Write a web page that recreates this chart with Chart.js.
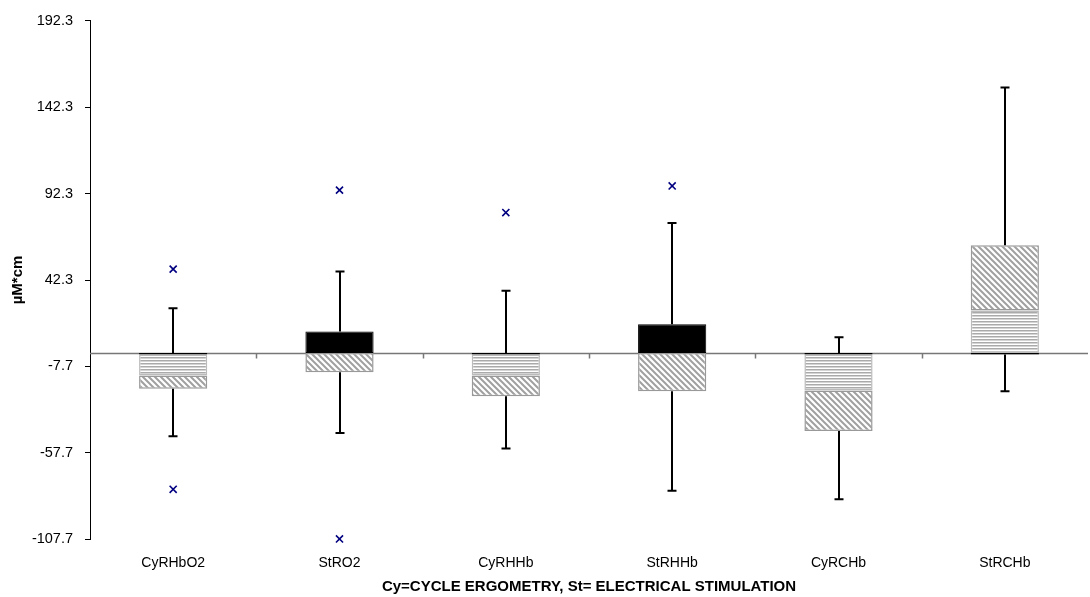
<!DOCTYPE html>
<html>
<head>
<meta charset="utf-8">
<script src="https://cdn.jsdelivr.net/npm/chart.js@4"></script>
<style>
  html, body { margin: 0; padding: 0; background: #fff; }
  #wrap { width: 1090px; height: 597px; }
</style>
</head>
<body>
<div id="wrap"><canvas id="boxChart"></canvas></div>
<script>
// categories and values
const categories = ['CyRHbO2', 'StRO2', 'CyRHHb', 'StRHHb', 'CyRCHb', 'StRCHb'];
// stacked box segments (Excel style, positive and negative stack apart)
const darkPart   = [-0.8, 12.5, -0.8, 16.7, -0.8, -0.8];
const stripePart = [-12.1, 0, -12.1, 0, -20.8, 24.6];
const hatchPart  = [-7.7, -11, -12.1, -22.1, -23.4, 37.8];
// whiskers
const whiskerHigh = [25.9, 47.2, 36.1, 75.3, 9.2, 153.7];
const whiskerLow  = [-48.1, -46.2, -55.2, -79.6, -84.6, -22.1];
// outliers
const outlierHigh = [48.6, 94.3, 81.3, 96.7, null, null];
const outlierLow  = [-78.8, -107.5, null, null, null, null];
// y ticks
const yTicks = [-107.7, -57.7, -7.7, 42.3, 92.3, 142.3, 192.3];

const FONT = "'Liberation Sans', Arial, sans-serif";

const ctx = document.getElementById('boxChart').getContext('2d');

// fill patterns
const hatch = (() => {
  const c = document.createElement('canvas');
  c.width = 6; c.height = 6;
  const g = c.getContext('2d');
  g.fillStyle = '#fff'; g.fillRect(0, 0, 6, 6);
  g.strokeStyle = '#a0a0a0'; g.lineWidth = 2;
  g.beginPath();
  g.moveTo(-3, -3); g.lineTo(9, 9);
  g.moveTo(-3, 3); g.lineTo(3, 9);
  g.moveTo(3, -3); g.lineTo(9, 3);
  g.stroke();
  return ctx.createPattern(c, 'repeat');
})();
const stripes = (() => {
  const c = document.createElement('canvas');
  c.width = 4; c.height = 3;
  const g = c.getContext('2d');
  g.fillStyle = '#fff'; g.fillRect(0, 0, 4, 3);
  g.fillStyle = '#aaa'; g.fillRect(0, 0, 4, 1.5);
  return ctx.createPattern(c, 'repeat');
})();

// zero line + whiskers
const boxExtras = {
  id: 'boxExtras',
  beforeDatasetsDraw(chart) {
    const { ctx, chartArea, scales: { x, y } } = chart;
    const y0 = Math.round(y.getPixelForValue(0)) + 0.5;
    ctx.save();
    ctx.strokeStyle = '#777';
    ctx.lineWidth = 1.5;
    ctx.beginPath();
    ctx.moveTo(chartArea.left, y0);
    ctx.lineTo(chartArea.right, y0);
    for (let i = 1; i < categories.length; i++) {
      const xb = Math.round(x.getPixelForValue(i - 0.5)) + 0.5;
      ctx.moveTo(xb, y0);
      ctx.lineTo(xb, y0 + 5);
    }
    ctx.stroke();
    ctx.restore();
  },
  afterDatasetsDraw(chart) {
    const { ctx, scales: { x, y } } = chart;
    ctx.save();
    ctx.strokeStyle = '#000';
    ctx.lineWidth = 2;
    categories.forEach((c, i) => {
      const parts = [darkPart[i], stripePart[i], hatchPart[i]];
      const pos = parts.filter(v => v > 0).reduce((a, b) => a + b, 0);
      const neg = parts.filter(v => v < 0).reduce((a, b) => a + b, 0);
      const cx = Math.round(x.getPixelForValue(i));
      const yTop = y.getPixelForValue(pos), yMax = y.getPixelForValue(whiskerHigh[i]);
      const yBot = y.getPixelForValue(neg), yMin = y.getPixelForValue(whiskerLow[i]);
      ctx.beginPath();
      ctx.moveTo(cx, yTop); ctx.lineTo(cx, yMax);
      ctx.moveTo(cx - 4.5, yMax); ctx.lineTo(cx + 4.5, yMax);
      ctx.moveTo(cx, yBot); ctx.lineTo(cx, yMin);
      ctx.moveTo(cx - 4.5, yMin); ctx.lineTo(cx + 4.5, yMin);
      ctx.stroke();
    });
    ctx.restore();
  }
};

const barBase = {
  type: 'bar',
  stack: 'box',
  barPercentage: 0.41,
  categoryPercentage: 1,
  borderSkipped: false
};

new Chart(ctx, {
  type: 'bar',
  data: {
    labels: categories,
    datasets: [
      { ...barBase, label: 'dark', data: darkPart, backgroundColor: '#000', borderColor: '#000', borderWidth: 1 },
      { ...barBase, label: 'stripes', data: stripePart, backgroundColor: stripes, borderColor: '#bbb', borderWidth: 1.5 },
      { ...barBase, label: 'hatch', data: hatchPart, backgroundColor: hatch, borderColor: '#999', borderWidth: 1.5 },
      {
        type: 'scatter', stack: 'o1', label: 'outHigh',
        data: categories.map((c, i) => ({ x: c, y: outlierHigh[i] })),
        pointStyle: 'crossRot', radius: 5, borderColor: '#000080', borderWidth: 1.6, clip: false
      },
      {
        type: 'scatter', stack: 'o2', label: 'outLow',
        data: categories.map((c, i) => ({ x: c, y: outlierLow[i] })),
        pointStyle: 'crossRot', radius: 5, borderColor: '#000080', borderWidth: 1.6, clip: false
      }
    ]
  },
  options: {
    responsive: true,
    maintainAspectRatio: false,
    animation: false,
    layout: { autoPadding: false, padding: { top: 19, right: 2, left: 0, bottom: 0 } },
    plugins: { legend: { display: false }, tooltip: { enabled: false } },
    scales: {
      x: {
        type: 'category',
        stacked: true,
        offset: true,
        grid: { display: false, drawTicks: false },
        border: { display: false },
        ticks: { color: '#000', padding: 15, font: { family: FONT, size: 14 }, maxRotation: 0 },
        title: {
          display: true,
          text: 'Cy=CYCLE ERGOMETRY, St= ELECTRICAL STIMULATION',
          color: '#000',
          font: { family: FONT, size: 15, weight: 'bold' },
          padding: { top: 0, bottom: 1 }
        },
        afterFit(scale) {
          scale.height = 57.7;
          scale.paddingLeft = 0;
          scale.paddingRight = 0;
        }
      },
      y: {
        stacked: true,
        min: -107.7,
        max: 192.3,
        afterBuildTicks(scale) { scale.ticks = yTicks.map(v => ({ value: v })); },
        grid: { drawOnChartArea: false, drawTicks: true, tickLength: 5, color: '#000' },
        border: { display: true, color: '#000', width: 1 },
        ticks: {
          color: '#000', padding: 12,
          font: { family: FONT, size: 14.5 },
          callback: v => v.toFixed(1)
        },
        title: {
          display: true,
          text: 'µM*cm',
          color: '#000',
          font: { family: FONT, size: 15, weight: 'bold' },
          padding: { top: 9, bottom: 0 }
        },
        afterFit(scale) { scale.width = 90; }
      }
    }
  },
  plugins: [boxExtras]
});
</script>
</body>
</html>
